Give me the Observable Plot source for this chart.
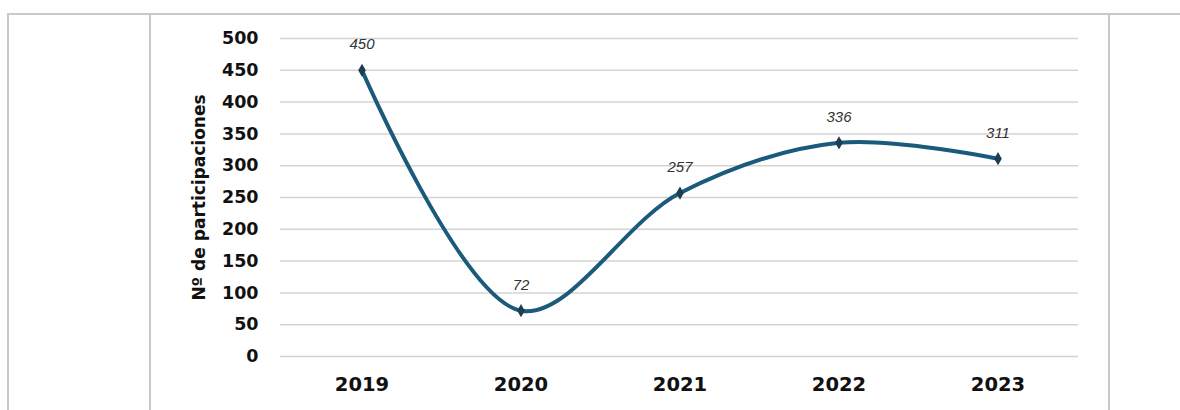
<!DOCTYPE html>
<html><head><meta charset="utf-8">
<script src="https://cdn.jsdelivr.net/npm/d3@7"></script>
<script src="https://cdn.jsdelivr.net/npm/@observablehq/plot@0.6"></script>
<style>
html,body{margin:0;padding:0;background:#fff;}
#wrap{position:relative;width:1180px;height:410px;overflow:hidden;font-family:"Liberation Sans",Arial,sans-serif;}
.ln{position:absolute;background:#c9c9c9;}
#chart{position:absolute;left:0;top:0;}
#chart g[aria-label="y-axis tick label"]{font-family:"DejaVu Sans",sans-serif;font-size:17.5px;font-weight:bold;fill:#111;}
#chart g[aria-label="x-axis tick label"]{font-family:"DejaVu Sans",sans-serif;font-size:19.5px;font-weight:bold;fill:#111;}
#chart g[aria-label="y-axis label"]{font-family:"DejaVu Sans",sans-serif;font-size:17px;font-weight:bold;fill:#111;}
</style></head>
<body><div id="wrap">
<div class="ln" style="left:7px;top:13px;width:1173px;height:2px"></div>
<div class="ln" style="left:7px;top:13px;width:2px;height:397px"></div>
<div class="ln" style="left:149px;top:13px;width:2px;height:397px"></div>
<div class="ln" style="left:1108px;top:13px;width:2px;height:397px"></div>
<div id="chart"></div>
</div>
<script>
const years = ["2019","2020","2021","2022","2023"];
const participaciones = [450, 72, 257, 336, 311];
const yTicks = [0,50,100,150,200,250,300,350,400,450,500];
const yLabel = "Nº de participaciones";

const data = years.map((y,i)=>({year:y, value:participaciones[i]}));

const chart = Plot.plot({
  width: 1180, height: 410,
  marginLeft: 280, marginRight: 102, marginTop: 38, marginBottom: 54,
  style: {fontFamily: '"Liberation Sans", Arial, sans-serif', background: "transparent"},
  x: {type: "band", domain: years, padding: 0},
  y: {domain: [0, 500]},
  marks: [
    Plot.ruleY(yTicks, {stroke: "#d4d4d4", strokeWidth: 1.5}),
    Plot.axisY({ticks: yTicks, tickSize: 0, tickPadding: 22,
      label: yLabel, labelAnchor: "center", labelArrow: "none", labelOffset: 88}),
    Plot.axisX({tickSize: 0, tickPadding: 21, label: null}),
    Plot.line(data, {x: "year", y: "value", curve: "catmull-rom", stroke: "#1a5a7a", strokeWidth: 4}),
    Plot.dot(data, {x: "year", y: "value", symbol: "diamond", r: 4, fill: "#1d3e52", stroke: "none"}),
    Plot.text(data, {x: "year", y: "value", text: d => String(d.value), dy: -26, fontSize: 15, fontStyle: "italic", fill: "#333"})
  ]
});
document.getElementById("chart").appendChild(chart);
</script>
</body></html>
